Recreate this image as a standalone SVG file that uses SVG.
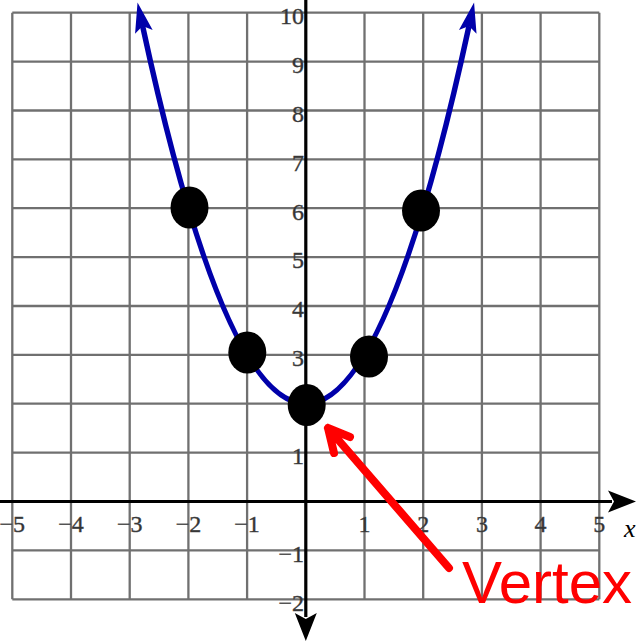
<svg xmlns="http://www.w3.org/2000/svg" width="636" height="641" viewBox="0 0 636 641">
  <style>
    .grid line { stroke: #707070; stroke-width: 2.3; }
    .axis { stroke: #000; stroke-width: 3.2; fill: none; }
    .lbl { font-family: "Liberation Serif", "Times New Roman", serif; font-size: 24px; fill: #333; stroke: #444; stroke-width: 0.4; }
    .xl { text-anchor: middle; }
    .yl { text-anchor: end; }
    .curve { stroke: #0000aa; stroke-width: 5.5; fill: none; }
    .dot { fill: #000; }
    .red { stroke: #ff0000; stroke-width: 8; fill: none; stroke-linecap: round; stroke-linejoin: round; }
  </style>
  <defs>
    <marker id="blueHead" markerUnits="userSpaceOnUse" markerWidth="40" markerHeight="30" refX="0" refY="0" orient="auto-start-reverse" viewBox="-10 -15 40 30">
      <path d="M24 0 L-6 -9 L0 0 L-6 9 Z" fill="#0000aa"/>
    </marker>
    <marker id="blackHead" markerUnits="userSpaceOnUse" markerWidth="40" markerHeight="30" refX="0" refY="0" orient="auto" viewBox="-10 -15 40 30">
      <path d="M24 0 L-4 -11 L2 0 L-4 11 Z" fill="#000"/>
    </marker>
  </defs>
  <rect width="636" height="641" fill="#fff"/>

  <g id="grid" class="grid">
    <line x1="12.3" y1="12.7" x2="12.3" y2="599.3"/>
    <line x1="71.0" y1="12.7" x2="71.0" y2="599.3"/>
    <line x1="129.7" y1="12.7" x2="129.7" y2="599.3"/>
    <line x1="188.4" y1="12.7" x2="188.4" y2="599.3"/>
    <line x1="247.1" y1="12.7" x2="247.1" y2="599.3"/>
    <line x1="364.5" y1="12.7" x2="364.5" y2="599.3"/>
    <line x1="423.2" y1="12.7" x2="423.2" y2="599.3"/>
    <line x1="481.9" y1="12.7" x2="481.9" y2="599.3"/>
    <line x1="540.6" y1="12.7" x2="540.6" y2="599.3"/>
    <line x1="599.3" y1="12.7" x2="599.3" y2="599.3"/>
    <line x1="12.3" y1="12.7" x2="599.3" y2="12.7"/>
    <line x1="12.3" y1="61.6" x2="599.3" y2="61.6"/>
    <line x1="12.3" y1="110.5" x2="599.3" y2="110.5"/>
    <line x1="12.3" y1="159.3" x2="599.3" y2="159.3"/>
    <line x1="12.3" y1="208.2" x2="599.3" y2="208.2"/>
    <line x1="12.3" y1="257.1" x2="599.3" y2="257.1"/>
    <line x1="12.3" y1="306.0" x2="599.3" y2="306.0"/>
    <line x1="12.3" y1="354.9" x2="599.3" y2="354.9"/>
    <line x1="12.3" y1="403.7" x2="599.3" y2="403.7"/>
    <line x1="12.3" y1="452.6" x2="599.3" y2="452.6"/>
    <line x1="12.3" y1="550.4" x2="599.3" y2="550.4"/>
    <line x1="12.3" y1="599.3" x2="599.3" y2="599.3"/>
  </g>

  <g id="labels" class="lbl">
    <text class="xl" x="12.3" y="531.7">−5</text>
    <text class="xl" x="71.0" y="531.7">−4</text>
    <text class="xl" x="129.7" y="531.7">−3</text>
    <text class="xl" x="188.4" y="531.7">−2</text>
    <text class="xl" x="247.1" y="531.7">−1</text>
    <text class="xl" x="364.5" y="531.7">1</text>
    <text class="xl" x="423.2" y="531.7">2</text>
    <text class="xl" x="481.9" y="531.7">3</text>
    <text class="xl" x="540.6" y="531.7">4</text>
    <text class="xl" x="599.3" y="531.7">5</text>
    <text class="yl" x="304" y="24.0">10</text>
    <text class="yl" x="304" y="72.9">9</text>
    <text class="yl" x="304" y="121.8">8</text>
    <text class="yl" x="304" y="170.6">7</text>
    <text class="yl" x="304" y="219.5">6</text>
    <text class="yl" x="304" y="268.4">5</text>
    <text class="yl" x="304" y="317.3">4</text>
    <text class="yl" x="304" y="366.2">3</text>
    <text class="yl" x="304" y="463.9">1</text>
    <text class="yl" x="304" y="561.7">−1</text>
    <text class="yl" x="304" y="610.6">−2</text>
  </g>

  <g id="connectors">
    <line id="x-axis" class="axis" x1="0" y1="501.5" x2="612" y2="501.5" marker-end="url(#blackHead)"/>
    <line id="y-axis" class="axis" x1="305.8" y1="0" x2="305.8" y2="617" marker-end="url(#blackHead)"/>
    <path id="parabola" class="curve" d="M142.6 26.0 Q305.8 781.5 469.0 26.0" marker-start="url(#blueHead)" marker-end="url(#blueHead)"/>
    <path id="vertex-arrow" class="red" d="M449 568 L328 428 M350 437 L328 428 L334 453"/>
  </g>

  <text id="x-label" x="624" y="537" font-family="Liberation Serif, serif" font-style="italic" font-size="26" fill="#000">x</text>

  <g id="point-m2"><ellipse class="dot" cx="189.5" cy="207.5" rx="19" ry="21"/></g>
  <g id="point-m1"><ellipse class="dot" cx="247.3" cy="352.5" rx="19" ry="21"/></g>
  <g id="point-0"><ellipse class="dot" cx="306.7" cy="405" rx="19" ry="21"/></g>
  <g id="point-1"><ellipse class="dot" cx="369" cy="356.5" rx="19" ry="21"/></g>
  <g id="point-2"><ellipse class="dot" cx="421" cy="210.5" rx="19" ry="21"/></g>

  <g id="vertex-label">
    <text x="462" y="603" font-family="Liberation Sans, Arial, sans-serif" font-size="60" fill="#ff0000">Vertex</text>
  </g>
</svg>
